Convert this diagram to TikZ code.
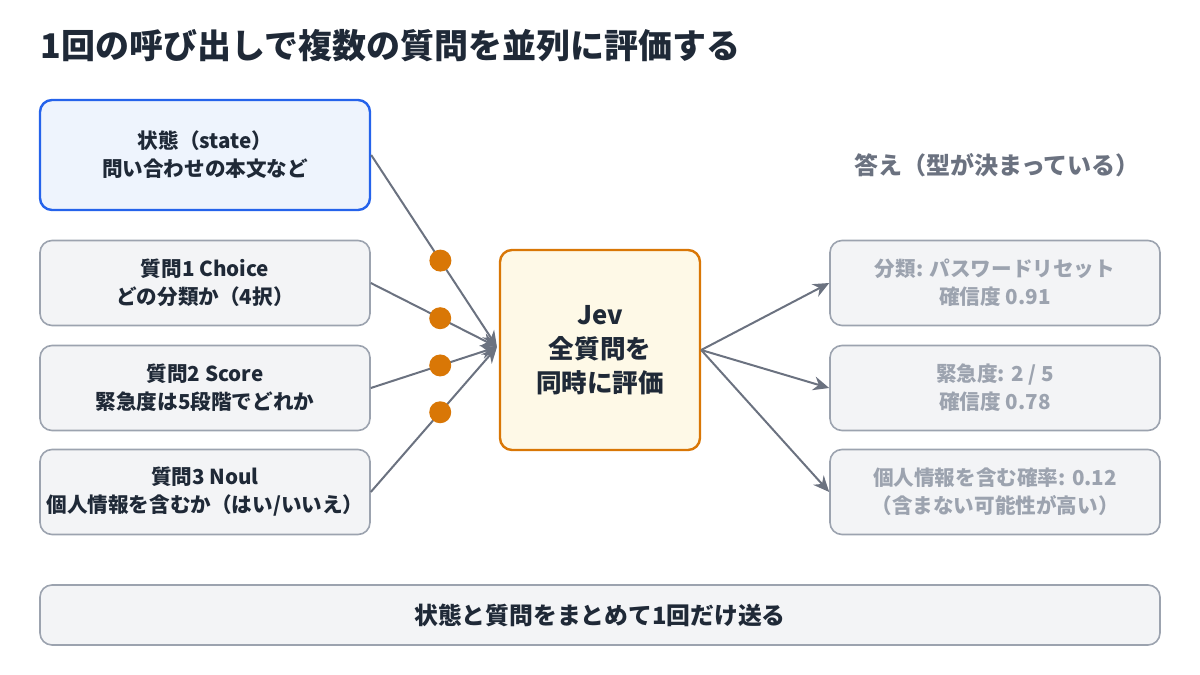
\documentclass[tikz,border=0pt]{standalone}
\usepackage{fontspec}
\setmainfont{Noto Sans CJK JP}
\usetikzlibrary{positioning,arrows.meta}
\definecolor{blueb}{HTML}{2563EB}
\definecolor{bluef}{HTML}{EEF4FD}
\definecolor{grayb}{HTML}{9CA3AF}
\definecolor{grayf}{HTML}{F3F4F6}
\definecolor{orab}{HTML}{D97706}
\definecolor{oraf}{HTML}{FEF9E7}
\definecolor{linec}{HTML}{6B7280}
\definecolor{txt}{HTML}{1F2937}
\tikzset{
    box/.style={draw=grayb, fill=grayf, rounded corners=6pt, line width=0.8pt, minimum width=165pt, minimum height=42.5pt, align=center, font=\fontsize{10.3}{14}\selectfont\bfseries, text=txt, inner sep=0pt},
    ans/.style={box, text=grayb},
    dot/.style={circle, fill=orab, inner sep=0pt, minimum size=11pt},
    link/.style={draw=linec, line width=1pt},
    arr/.style={link, -{Stealth[length=8pt,width=7pt]}}
}
\begin{document}
\begin{tikzpicture}[x=0.5pt,y=-0.5pt]
    \useasboundingbox (0,0) rectangle (1200,675);
    \node[anchor=west, inner sep=0pt, font=\fontsize{17}{20}\selectfont\bfseries, text=txt] (title) at (40,46) {1回の呼び出しで複数の質問を並列に評価する};
    % inputs
    \node[box, draw=blueb, fill=bluef, line width=1.2pt, minimum height=55pt] (state) at (205,155) {状態（state）\\問い合わせの本文など};
    \node[box] (q1) at (205,283) {質問1 Choice\\どの分類か（4択）};
    \node[box] (q2) at (205,388) {質問2 Score\\緊急度は5段階でどれか};
    \node[box] (q3) at (205,492) {質問3 Noul\\個人情報を含むか（はい/いいえ）};
    % evaluator
    \node[box, draw=orab, fill=oraf, line width=1.2pt, minimum width=100pt, minimum height=100pt, font=\fontsize{12.8}{17}\selectfont\bfseries] (jev) at (600,350) {Jev\\全質問を\\同時に評価};
    \coordinate (in) at (497,347);
    % answers
    \node[font=\fontsize{12}{14}\selectfont\bfseries, text=linec] (head) at (997,165) {答え（型が決まっている）};
    \node[ans] (a1) at (995,283) {分類: パスワードリセット\\確信度 0.91};
    \node[ans] (a2) at (995,388) {緊急度: 2 / 5\\確信度 0.78};
    \node[ans] (a3) at (995,492) {個人情報を含む確率: 0.12\\（含まない可能性が高い）};
    \node[box, minimum width=560pt, minimum height=30pt, font=\fontsize{11.9}{14}\selectfont\bfseries] (send) at (600,615) {状態と質問をまとめて1回だけ送る};
    % connectors
    \foreach \q in {state,q1,q2,q3} {
        \draw[arr] (\q.east) -- node[dot, pos=0.55] {} (in);
    }
    \foreach \a in {a1,a2,a3} {
        \draw[arr] (jev.east) -- (\a.west);
    }
\end{tikzpicture}
\end{document}
